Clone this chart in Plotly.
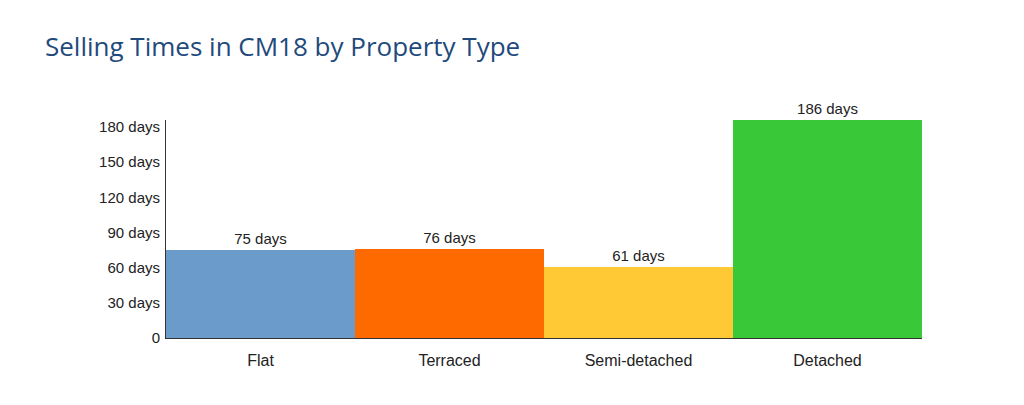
import plotly.graph_objects as go

# data
property_types = ["Flat", "Terraced", "Semi-detached", "Detached"]
selling_days = [75, 76, 61, 186]
bar_colors = ["#6a9bcb", "#ff6a00", "#ffc935", "#38c838"]
tick_values = [0, 30, 60, 90, 120, 150, 180]
tick_labels = ["0"] + [f"{v} days" for v in tick_values[1:]]

fig = go.Figure()

fig.add_trace(go.Bar(
    x=property_types,
    y=selling_days,
    marker=dict(color=bar_colors, line=dict(width=0)),
    text=[f"{v} days" for v in selling_days],
    textposition="outside",
    textfont=dict(family="Liberation Sans, Arial", size=15, color="#222222"),
    cliponaxis=False,
    showlegend=False,
))

# the page body adds an 8px offset, so margins are shifted to compensate
fig.update_layout(
    width=1024,
    height=405,
    paper_bgcolor="white",
    plot_bgcolor="white",
    margin=dict(l=158, r=110, t=112, b=75),
    bargap=0,
    title=dict(
        text="Selling Times in CM18 by Property Type",
        x=37 / 1024, xanchor="left",
        y=1 - 39 / 405, yanchor="middle",
        font=dict(family="Open Sans, Lato", size=26, color="#1f4a7c"),
    ),
    xaxis=dict(
        showline=True, linecolor="#333333", linewidth=1,
        showgrid=False, ticks="", ticklabelstandoff=8,
        tickfont=dict(family="Liberation Sans, Arial", size=16, color="#222222"),
    ),
    yaxis=dict(
        range=[0, 186],
        showline=True, linecolor="#333333", linewidth=1,
        showgrid=False, zeroline=False, ticks="", ticklabelstandoff=2,
        tickvals=tick_values, ticktext=tick_labels,
        tickfont=dict(family="Liberation Sans, Arial", size=15, color="#222222"),
    ),
)

fig.write_html("out.html")
